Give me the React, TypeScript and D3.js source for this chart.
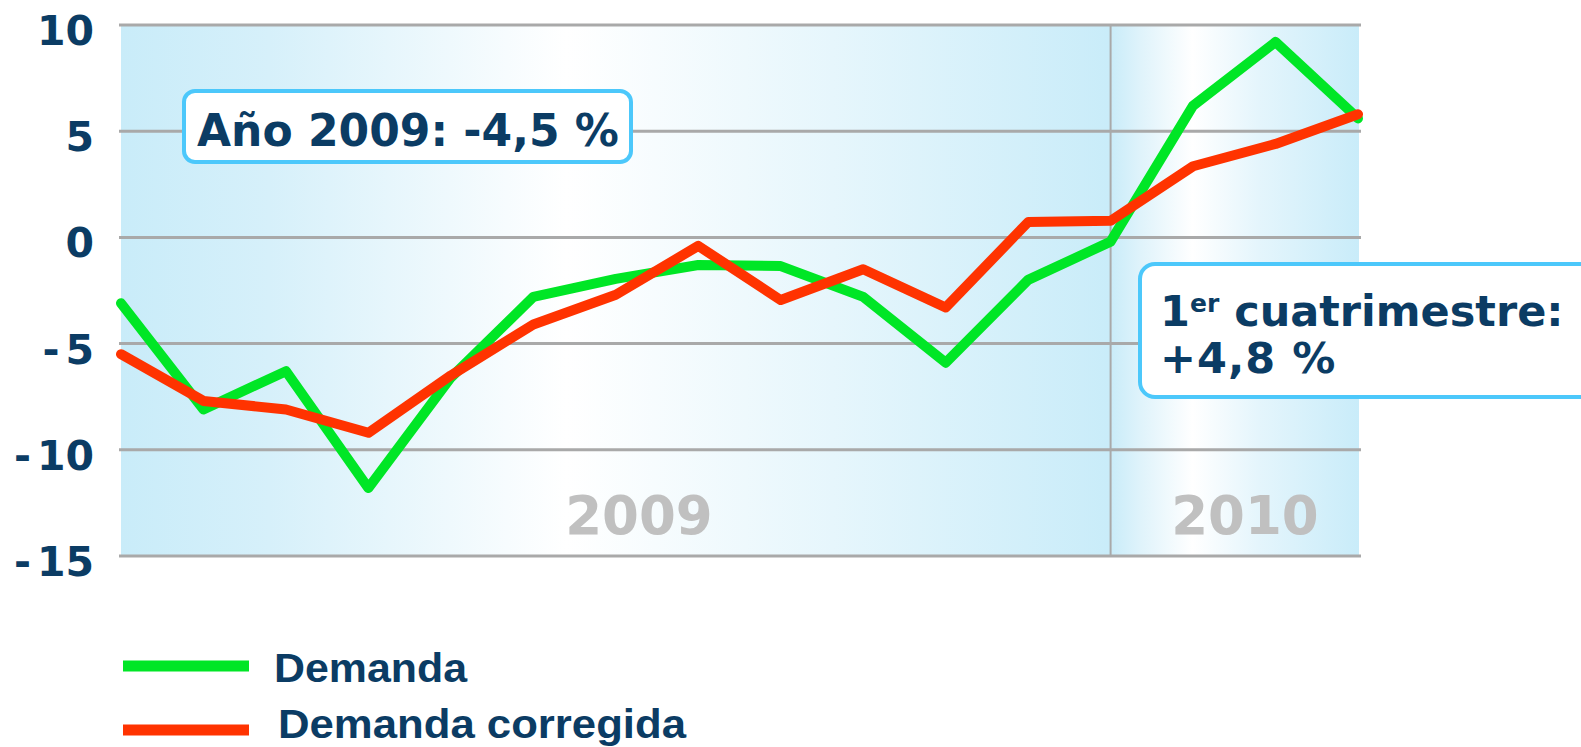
import React from "react";
import * as d3 from "d3";

const months = ["E09","F09","M09","A09","My09","Jn09","Jl09","Ag09","S09","O09","N09","D09","E10","F10","M10","A10"];
const demanda = [-3.1, -8.1, -6.3, -11.8, -6.6, -2.8, -1.95, -1.3, -1.35, -2.8, -5.9, -2.0, -0.2, 6.2, 9.2, 5.6];
const corregida = [-5.5, -7.7, -8.1, -9.2, -6.5, -4.1, -2.7, -0.4, -2.95, -1.5, -3.3, 0.72, 0.78, 3.35, 4.4, 5.8];
const yTicks = [10, 5, 0, -5, -10, -15];
const yearLabels = [
  { label: "2009", cx: 639 },
  { label: "2010", cx: 1245 },
];
const seriesNames = ["Demanda", "Demanda corregida"];

const W = 1581, H = 747;
const NAVY = "#0b3c64";
const GREEN = "#00e626";
const RED = "#ff3300";
const GRID = "#a9a9a9";
const BLUE = "#c9ecf9";
const BOXSTROKE = "#4cc8fb";
const FONT = "'DejaVu Sans', Verdana, sans-serif";
const NARROW = "'Liberation Sans Narrow', 'Arial Narrow', sans-serif";

export default function App() {
  const x = d3.scalePoint<string>().domain(months).range([121, 1358]);
  const y = d3.scaleLinear().domain([-15, 10]).range([556, 25]);
  const line = d3.line<number>().x((_, i) => x(months[i])!).y((d) => y(d));

  const xs = months.map((m) => x(m)!);
  const x2009a = xs[0], x2009b = xs[12], x2010b = xs[15];

  return (
    <svg width={W} height={H} style={{ position: "absolute", left: 0, top: 0 }}>
      <defs>
        <linearGradient id="g2009" x1="0" x2="1" y1="0" y2="0">
          <stop offset="0" stopColor={BLUE} />
          <stop offset="0.15" stopColor="#d6f0fa" />
          <stop offset="0.45" stopColor="#ffffff" />
          <stop offset="0.72" stopColor="#e6f6fc" />
          <stop offset="1" stopColor={BLUE} />
        </linearGradient>
        <linearGradient id="g2010" x1="0" x2="1" y1="0" y2="0">
          <stop offset="0" stopColor={BLUE} />
          <stop offset="0.12" stopColor="#dff3fb" />
          <stop offset="0.33" stopColor="#ffffff" />
          <stop offset="0.6" stopColor="#e4f5fc" />
          <stop offset="1" stopColor={BLUE} />
        </linearGradient>
      </defs>
      <rect x={x2009a} y={y(10)} width={x2009b - x2009a} height={y(-15) - y(10)} fill="url(#g2009)" />
      <rect x={x2009b} y={y(10)} width={x2010b - x2009b + 1} height={y(-15) - y(10)} fill="url(#g2010)" />

      {yTicks.map((t) => (
        <line key={t} x1={119} x2={1361} y1={y(t)} y2={y(t)} stroke={GRID} strokeWidth={3} />
      ))}
      <line x1={x2009b} x2={x2009b} y1={y(10)} y2={y(-15)} stroke={GRID} strokeWidth={2} />

      {yTicks.map((t) => (
        <text key={t} x={94} y={y(t) + 20} textAnchor="end" fill={NAVY}
          fontFamily={FONT} fontWeight="bold" fontSize={41}>
          {t < 0 ? (
            <>
              <tspan>-</tspan>
              <tspan dx={6}>{Math.abs(t)}</tspan>
            </>
          ) : (
            String(t)
          )}
        </text>
      ))}

      {yearLabels.map((yl) => (
        <text key={yl.label} x={yl.cx} y={534} textAnchor="middle" fill="#c0c0c0"
          fontFamily={FONT} fontWeight="bold" fontSize={53}>
          {yl.label}
        </text>
      ))}

      <path d={line(demanda)!} fill="none" stroke={GREEN} strokeWidth={10} strokeLinejoin="round" strokeLinecap="round" />
      <path d={line(corregida)!} fill="none" stroke={RED} strokeWidth={10} strokeLinejoin="round" strokeLinecap="round" />

      <rect x={184} y={91} width={447} height={71} rx={11} fill="#fff" stroke={BOXSTROKE} strokeWidth={4} />
      <text x={197} y={146} fill={NAVY} fontFamily={FONT} fontWeight="bold" fontSize={44}>
        Año 2009: -4,5 %
      </text>

      <rect x={1140} y={264} width={480} height={133} rx={15} fill="#fff" stroke={BOXSTROKE} strokeWidth={4} />
      <text x={1160} y={326} fill={NAVY} fontFamily={FONT} fontWeight="bold" fontSize={43}>
        1<tspan dy={-14} fontSize={25} fontWeight="600">er</tspan><tspan dy={14}> cuatrimestre:</tspan>
      </text>
      <text x={1160} y={373} fill={NAVY} fontFamily={FONT} fontWeight="bold" fontSize={43} letterSpacing={1}>
        +4,8 %
      </text>

      <line x1={123} x2={249} y1={666} y2={666} stroke={GREEN} strokeWidth={11} />
      <text x={274} y={682} fill={NAVY} fontFamily={NARROW} fontWeight="bold" fontSize={41} textLength={193} lengthAdjust="spacingAndGlyphs">
        {seriesNames[0]}
      </text>
      <line x1={123} x2={249} y1={730} y2={730} stroke={RED} strokeWidth={11} />
      <text x={278} y={738} fill={NAVY} fontFamily={NARROW} fontWeight="bold" fontSize={40} textLength={408} lengthAdjust="spacingAndGlyphs">
        {seriesNames[1]}
      </text>
    </svg>
  );
}
